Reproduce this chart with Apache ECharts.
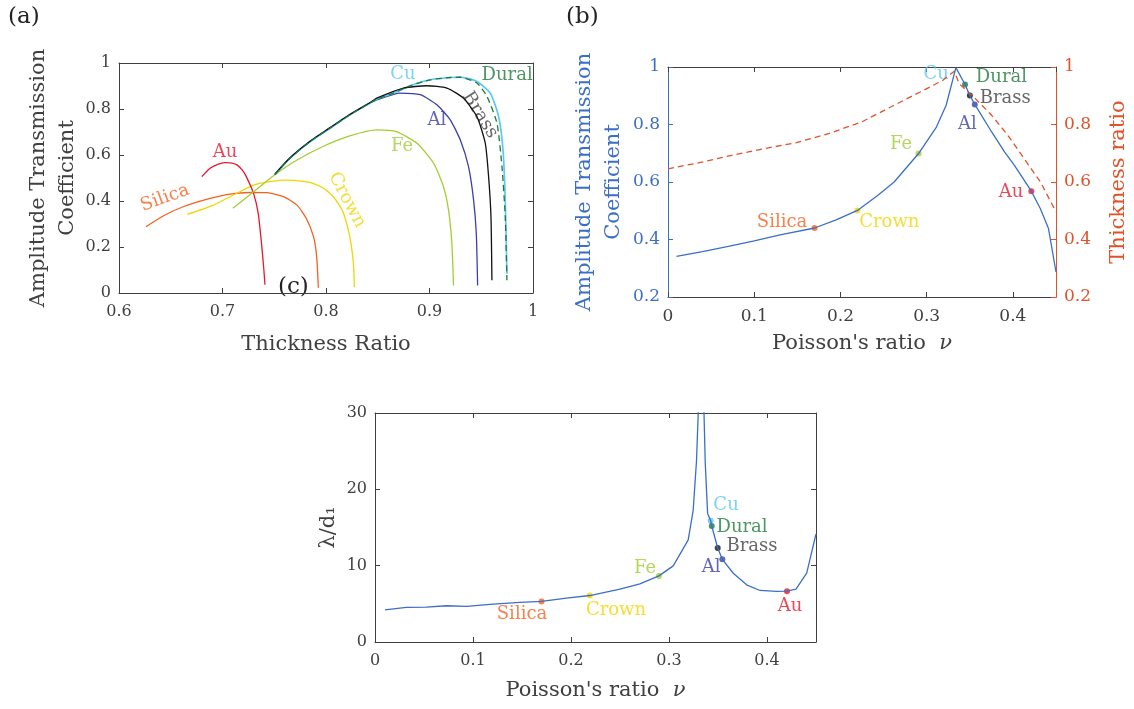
<!DOCTYPE html>
<html>
<head>
<meta charset="utf-8">
<script src="https://cdn.jsdelivr.net/npm/echarts@6/dist/echarts.min.js"></script>
<style>
html,body{margin:0;padding:0;background:#fff;}
#chart{width:1134px;height:709px;}
</style>
</head>
<body>
<div id="chart"></div>
<script>
// ---------- DATA ----------
// Panel (a): [thickness ratio, amplitude transmission coefficient]
const aSilica = [[0.626,0.288],[0.643,0.336],[0.662,0.375],[0.688,0.411],[0.707,0.430],[0.726,0.437],[0.743,0.436],[0.759,0.419],[0.772,0.382],[0.781,0.324],[0.788,0.244],[0.791,0.157],[0.7926,0.023]];
const aCrown = [[0.666,0.342],[0.690,0.380],[0.710,0.425],[0.730,0.469],[0.745,0.484],[0.759,0.491],[0.772,0.489],[0.785,0.480],[0.796,0.460],[0.804,0.433],[0.811,0.395],[0.817,0.346],[0.823,0.244],[0.8265,0.128],[0.8274,0.026]];
const aAu = [[0.680,0.506],[0.688,0.542],[0.696,0.560],[0.702,0.567],[0.708,0.566],[0.714,0.557],[0.719,0.535],[0.723,0.506],[0.730,0.433],[0.7345,0.346],[0.7377,0.215],[0.740,0.099],[0.741,0.036]];
const aFe = [[0.710,0.368],[0.730,0.440],[0.749,0.509],[0.772,0.578],[0.797,0.637],[0.823,0.683],[0.849,0.709],[0.868,0.702],[0.888,0.651],[0.904,0.564],[0.9135,0.462],[0.9184,0.360],[0.9216,0.215],[0.9232,0.033]];
const aAl = [[0.7506,0.514],[0.7652,0.586],[0.7845,0.658],[0.8039,0.717],[0.8232,0.775],[0.8426,0.826],[0.849,0.840],[0.8716,0.869],[0.891,0.862],[0.9071,0.818],[0.920,0.753],[0.9297,0.666],[0.9377,0.549],[0.9426,0.404],[0.9452,0.259],[0.9465,0.033]];
const aBrass = [[0.7506,0.517],[0.7652,0.588],[0.7845,0.660],[0.8039,0.719],[0.8232,0.777],[0.8426,0.828],[0.849,0.847],[0.8748,0.891],[0.8974,0.901],[0.9168,0.891],[0.9329,0.847],[0.9458,0.767],[0.9539,0.651],[0.9571,0.506],[0.9594,0.331],[0.9603,0.055]];
const aCu = [[0.7506,0.515],[0.7652,0.586],[0.7845,0.658],[0.8039,0.717],[0.8232,0.775],[0.8426,0.826],[0.849,0.843],[0.8652,0.869],[0.8813,0.901],[0.9006,0.927],[0.920,0.937],[0.9297,0.939],[0.9458,0.920],[0.9587,0.869],[0.9668,0.767],[0.971,0.622],[0.9732,0.404],[0.9748,0.084]];
const aDural = [[0.7506,0.515],[0.7652,0.586],[0.7845,0.658],[0.8039,0.717],[0.8232,0.775],[0.8426,0.826],[0.849,0.843],[0.8652,0.869],[0.8813,0.901],[0.9006,0.927],[0.920,0.937],[0.9297,0.938],[0.9458,0.913],[0.9555,0.855],[0.9652,0.738],[0.970,0.549],[0.9732,0.331],[0.9748,0.055]];

// Panel (b): [Poisson's ratio, transmission coefficient]
const bCoef = [[0.0098,0.341],[0.04,0.358],[0.07,0.376],[0.10,0.395],[0.13,0.416],[0.17,0.440],[0.195,0.468],[0.2197,0.501],[0.2435,0.554],[0.2623,0.600],[0.2906,0.699],[0.3113,0.791],[0.3226,0.867],[0.3339,0.998],[0.3445,0.939],[0.3501,0.901],[0.3558,0.870],[0.3754,0.774],[0.3905,0.704],[0.4018,0.658],[0.4214,0.568],[0.4319,0.507],[0.4413,0.438],[0.450,0.287]];
// Panel (b): [Poisson's ratio, thickness ratio]
const bThick = [[0,0.646],[0.036,0.667],[0.0739,0.693],[0.1116,0.716],[0.149,0.737],[0.187,0.769],[0.2246,0.809],[0.2623,0.867],[0.2924,0.913],[0.3188,0.954],[0.332,0.985],[0.3377,0.942],[0.3565,0.890],[0.3754,0.832],[0.3943,0.762],[0.4131,0.681],[0.432,0.600],[0.450,0.496]];

// Panel (c): [Poisson's ratio, lambda/d1]
const cLambda = [[0.0102,4.22],[0.032,4.53],[0.0524,4.57],[0.0728,4.75],[0.0933,4.66],[0.1205,4.96],[0.1477,5.18],[0.1699,5.31],[0.1954,5.75],[0.2192,6.09],[0.250,6.92],[0.2703,7.62],[0.2897,8.66],[0.3043,9.97],[0.3196,13.37],[0.3247,17.28],[0.3281,23.8],[0.3298,29.9],[0.333,60],[0.3357,30],[0.337,23.4],[0.3394,16.85],[0.3425,15.89],[0.3436,15.2],[0.3497,12.31],[0.3544,10.83],[0.3656,9.01],[0.3792,7.49],[0.3928,6.75],[0.4098,6.62],[0.4204,6.66],[0.4296,6.92],[0.4405,9.01],[0.450,14.15]];

// Materials (marker positions)
const materials = ['Silica','Crown','Fe','Cu','Dural','Brass','Al','Au'];
const bNu       = [0.170, 0.2197, 0.2906, null, 0.3445, 0.3501, 0.3558, 0.4214];
const bMatCoef  = [0.440, 0.501, 0.699, null, 0.939, 0.901, 0.870, 0.568];
const cNu       = [0.1699, 0.2192, 0.2897, 0.3425, 0.3436, 0.3497, 0.3544, 0.4204];
const cMatLambda= [5.31, 6.09, 8.66, 15.89, 15.2, 12.31, 10.83, 6.66];

// ---------- STYLE ----------
const FONT = 'DejaVu Serif';
const GRAY = '#404040';
const BLUE = '#3B6FC6';
const RED = '#E0522A';
const matColor = {Silica:'#F5601E', Crown:'#F2D500', Fe:'#A2CD32', Cu:'#5BC8F1', Dural:'#1E7A3A', Brass:'#111111', Al:'#3A40A8', Au:'#E8182C'};
const labelColor = Object.assign({}, matColor, {Brass:'#404040'});

// label anchors (data coordinates) per panel: [x, y, rotate]
const labA = {Cu:[0.8744,0.952,0], Dural:[0.975,0.948,0], Brass:[0.9488,0.774,-58], Al:[0.9072,0.752,0], Fe:[0.8734,0.639,0], Au:[0.7024,0.613,0], Silica:[0.6444,0.413,20], Crown:[0.8203,0.404,-62]};
const labB = {Cu:[0.3109,0.976,0], Dural:[0.3867,0.965,0], Brass:[0.3912,0.892,0], Al:[0.3471,0.802,0], Fe:[0.2702,0.732,0], Silica:[0.1323,0.461,0], Crown:[0.2567,0.461,0], Au:[0.398,0.565,0]};
const labC = {Cu:[0.3582,17.95,0], Dural:[0.3745,15.07,0], Brass:[0.3847,12.58,0], Al:[0.3429,9.83,0], Fe:[0.2755,9.69,0], Silica:[0.150,3.67,0], Crown:[0.2459,4.19,0], Au:[0.4235,4.72,0]};

const grids = [
  {left:119, top:63, width:414, height:230},
  {left:668, top:67, width:398, height:230},
  {left:375, top:413, width:441, height:229}
];

function fmt(v){ return String(+(+v).toFixed(2)); }

function mainX(gi, min, max, interval, name, fs, gap){
  return {
    type:'value', gridIndex:gi, min:min, max:max, interval:interval, position:'bottom',
    axisLine:{show:true, onZero:false, lineStyle:{color:GRAY, width:1}},
    axisTick:{show:true, inside:true, length:5, lineStyle:{color:GRAY}},
    axisLabel:{color:GRAY, fontFamily:FONT, fontSize:fs, margin:11, formatter:fmt, showMaxLabel: max===1},
    splitLine:{show:false},
    name:name, nameLocation:'middle', nameGap:gap,
    nameTextStyle:{color:GRAY, fontFamily:FONT, fontSize:21, rich:{i:{fontStyle:'italic', fontFamily:FONT, fontSize:21, color:GRAY}}}
  };
}
function boxAxis(gi, min, max, interval, pos){
  return {
    type:'value', gridIndex:gi, min:min, max:max, interval:interval, position:pos,
    axisLine:{show:true, onZero:false, lineStyle:{color:GRAY, width:1}},
    axisTick:{show:true, inside:true, length:5, lineStyle:{color:GRAY}},
    axisLabel:{show:false}, splitLine:{show:false}
  };
}
function mainY(gi, min, max, interval, name, color, pos, gap, fs){
  return {
    type:'value', gridIndex:gi, min:min, max:max, interval:interval, position:pos||'left',
    axisLine:{show:true, onZero:false, lineStyle:{color:color, width:1}},
    axisTick:{show:true, inside:true, length:5, lineStyle:{color:color}},
    axisLabel:{color:color, fontFamily:FONT, fontSize:fs, margin:8, formatter:fmt},
    splitLine:{show:false},
    name:name, nameLocation:'middle', nameRotate:90, nameGap:gap,
    nameTextStyle:{color:color, fontFamily:FONT, fontSize:21, lineHeight:29}
  };
}

const xAxis = [
  mainX(0, 0.6, 1, 0.1, 'Thickness Ratio', 16, 41),          // 0
  boxAxis(0, 0.6, 1, 0.1, 'top'),                            // 1
  mainX(1, 0, 0.45, 0.1, "Poisson's ratio  {i|ν}", 17, 36),  // 2
  boxAxis(1, 0, 0.45, 0.1, 'top'),                           // 3
  mainX(2, 0, 0.45, 0.1, "Poisson's ratio  {i|ν}", 16, 38),  // 4
  boxAxis(2, 0, 0.45, 0.1, 'top')                            // 5
];
const yAxis = [
  mainY(0, 0, 1, 0.2, 'Amplitude Transmission\nCoefficient', GRAY, 'left', 37, 16),   // 0
  boxAxis(0, 0, 1, 0.2, 'right'),                                                    // 1
  mainY(1, 0.2, 1, 0.2, 'Amplitude Transmission\nCoefficient', BLUE, 'left', 40, 17), // 2
  mainY(1, 0.2, 1, 0.2, 'Thickness ratio', RED, 'right', 48, 17),                     // 3
  mainY(2, 0, 30, 10, 'λ/d₁', GRAY, 'left', 25, 16),                                  // 4
  boxAxis(2, 0, 30, 10, 'right')                                                      // 5
];

const series = [];
function line(data, color, xi, yi, dashed, width, smooth){
  series.push({type:'line', data:data, xAxisIndex:xi, yAxisIndex:yi, showSymbol:false, symbol:'none',
    smooth: smooth ? 0.2 : false, clip:true, silent:true, animation:false,
    lineStyle:{color:color, width:width||1.3, type: dashed ? [6,4] : 'solid'}});
}
// Panel (a)
line(aSilica, matColor.Silica, 0, 0, false, 1.3, true);
line(aCrown, matColor.Crown, 0, 0, false, 1.3, true);
line(aAu, matColor.Au, 0, 0, false, 1.3, true);
line(aFe, matColor.Fe, 0, 0, false, 1.3, true);
line(aAl, matColor.Al, 0, 0, false, 1.3, true);
line(aCu, matColor.Cu, 0, 0, false, 1.7, true);
line(aBrass, matColor.Brass, 0, 0, false, 1.3, true);
line(aDural, matColor.Dural, 0, 0, true, 1.3, true);
// Panel (b)
line(bThick, RED, 2, 3, true, 1.3, false);
line(bCoef, BLUE, 2, 2, false, 1.3, false);
// Panel (c)
line(cLambda, BLUE, 4, 4, false, 1.3, false);

// dots for (b) and (c)
function dots(xi, yi, xs, ys){
  series.push({type:'scatter', xAxisIndex:xi, yAxisIndex:yi, symbolSize:6, silent:true, animation:false,
    data: materials.map((m,i)=> xs[i]==null ? null : ({value:[xs[i], ys[i]], itemStyle:{color:matColor[m]}})).filter(d=>d)});
}
dots(2, 2, bNu, bMatCoef);
dots(4, 4, cNu, cMatLambda);

// text labels
function labels(xi, yi, lab){
  series.push({type:'scatter', xAxisIndex:xi, yAxisIndex:yi, symbolSize:0, silent:true, animation:false,
    data: materials.map(m=>({value:[lab[m][0], lab[m][1]],
      label:{show:true, position:'inside', formatter:m, rotate:lab[m][2], color:labelColor[m], fontFamily:FONT, fontSize:18}}))});
}
labels(0, 0, labA);
labels(2, 2, labB);
labels(4, 4, labC);

const chart = echarts.init(document.getElementById('chart'), null, {renderer:'canvas'});
chart.setOption({
  backgroundColor:'#fff',
  animation:false,
  grid:grids,
  xAxis:xAxis,
  yAxis:yAxis,
  series:series,
  graphic:[
    {type:'text', left:8, top:6, style:{text:'(a)', font:'23px "DejaVu Serif"', fill:'#222'}},
    {type:'text', left:566, top:6, style:{text:'(b)', font:'23px "DejaVu Serif"', fill:'#222'}},
    {type:'text', left:278, top:276, style:{text:'(c)', font:'23px "DejaVu Serif"', fill:'#222'}}
  ]
});
</script>
</body>
</html>
